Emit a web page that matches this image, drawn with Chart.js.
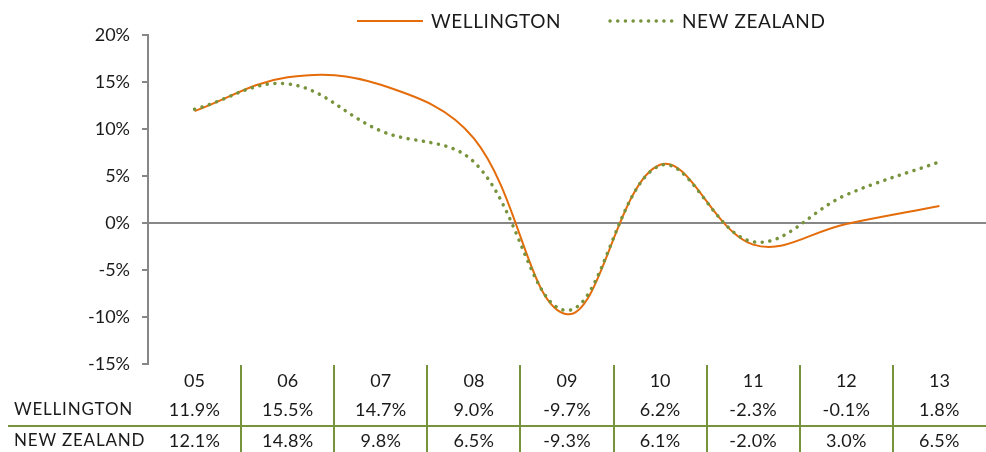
<!DOCTYPE html>
<html>
<head>
<meta charset="utf-8">
<script src="https://cdn.jsdelivr.net/npm/chart.js@4.4.1/dist/chart.umd.min.js"></script>
<style>
  html, body { margin: 0; padding: 0; background: #fff; }
  #wrap { width: 986px; height: 452px; }
</style>
</head>
<body>
<div id="wrap"><canvas id="myChart"></canvas></div>
<script>
// years along the bottom
var years = ["05", "06", "07", "08", "09", "10", "11", "12", "13"];

// annual change, %
var wellington = [11.9, 15.5, 14.7, 9.0, -9.7, 6.2, -2.3, -0.1, 1.8];
var newZealand = [12.1, 14.8, 9.8, 6.5, -9.3, 6.1, -2.0, 3.0, 6.5];

var yTicks = [20, 15, 10, 5, 0, -5, -10, -15];

const ORANGE = "#E46C0A";
const GREEN = "#77933C";
const GREY = "#878787";
const TEXT = "#1a1a1a";
const FONT = "Lato, 'Open Sans', sans-serif";

var ctx = document.getElementById("myChart");

// legend + data table underneath, drawn by hand
const tablePlugin = {
  id: "tablePlugin",
  afterDraw(chart) {
    const c = chart.ctx;
    const x = chart.scales.x;
    const area = chart.chartArea;
    const W = chart.width, H = chart.height;
    const ds = chart.data.datasets;
    const well = ds[1], nz = ds[0];

    c.save();
    // legend: wellington first
    [[well, 357], [nz, 608]].forEach(([d, lx]) => {
      c.beginPath();
      c.strokeStyle = d.borderColor;
      c.lineWidth = d.borderWidth;
      c.lineCap = d.borderCapStyle || "butt";
      c.setLineDash(d.borderDash || []);
      c.moveTo(lx + (d.borderDash ? 2 : 0), 21);
      c.lineTo(lx + 66, 21);
      c.stroke();
      c.setLineDash([]);
      c.fillStyle = TEXT;
      c.font = "19px " + FONT;
      c.textBaseline = "middle";
      c.textAlign = "left";
      c.letterSpacing = "0.6px";
      c.fillText(d.label, lx + 74, 22);
    });

    // table lines
    c.strokeStyle = GREEN;
    c.lineWidth = 2;
    c.lineCap = "butt";
    for (let i = 1; i < years.length; i++) {
      const bx = Math.round((x.getPixelForValue(i - 1) + x.getPixelForValue(i)) / 2);
      c.beginPath();
      c.moveTo(bx, area.bottom + 1);
      c.lineTo(bx, H);
      c.stroke();
    }
    c.beginPath();
    c.moveTo(8, 426);
    c.lineTo(W, 426);
    c.stroke();

    // row labels and values
    const rows = [
      { label: well.label, values: wellington, y: 410 },
      { label: nz.label, values: newZealand, y: 441 }
    ];
    c.fillStyle = TEXT;
    c.textBaseline = "middle";
    rows.forEach(r => {
      c.font = "17px " + FONT;
      c.textAlign = "left";
      c.letterSpacing = "0.8px";
      c.fillText(r.label, 14, r.y);
      c.font = "18px " + FONT;
      c.letterSpacing = "0.3px";
      c.textAlign = "center";
      r.values.forEach((v, i) => {
        c.fillText(v.toFixed(1) + "%", x.getPixelForValue(i), r.y);
      });
    });
    c.restore();
  }
};

var myChart = new Chart(ctx, {
  type: "line",
  data: {
    labels: years,
    datasets: [
      {
        label: "NEW ZEALAND",
        data: newZealand,
        borderColor: GREEN,
        backgroundColor: GREEN,
        borderWidth: 3.5,
        borderDash: [0.1, 7.6],
        borderCapStyle: "round",
        tension: 0.38,
        pointRadius: 0,
        fill: false,
        order: 0
      },
      {
        label: "WELLINGTON",
        data: wellington,
        borderColor: ORANGE,
        backgroundColor: ORANGE,
        borderWidth: 2,
        tension: 0.38,
        pointRadius: 0,
        fill: false,
        order: 1
      }
    ]
  },
  options: {
    responsive: true,
    maintainAspectRatio: false,
    animation: false,
    layout: { padding: { top: 35, left: 0, right: 0, bottom: 0 } },
    plugins: {
      legend: { display: false },
      tooltip: { enabled: false }
    },
    scales: {
      x: {
        offset: true,
        grid: { display: false, drawTicks: false },
        border: { display: false },
        ticks: {
          color: TEXT,
          font: { family: FONT, size: 18 },
          padding: 6,
          maxRotation: 0
        },
        afterFit: s => { s.height = 88; }
      },
      y: {
        min: -15,
        max: 20,
        afterBuildTicks: s => { s.ticks = yTicks.map(v => ({ value: v })); },
        grid: {
          drawOnChartArea: true,
          color: c => (c.tick && c.tick.value === 0 ? GREY : "transparent"),
          tickColor: GREY,
          lineWidth: 2,
          tickLength: 6
        },
        border: { display: true, color: GREY, width: 2 },
        ticks: {
          color: TEXT,
          font: { family: FONT, size: 18 },
          padding: 12,
          callback: v => v + "%"
        },
        afterFit: s => { s.width = 148; }
      }
    }
  },
  plugins: [tablePlugin]
});
</script>
</body>
</html>
